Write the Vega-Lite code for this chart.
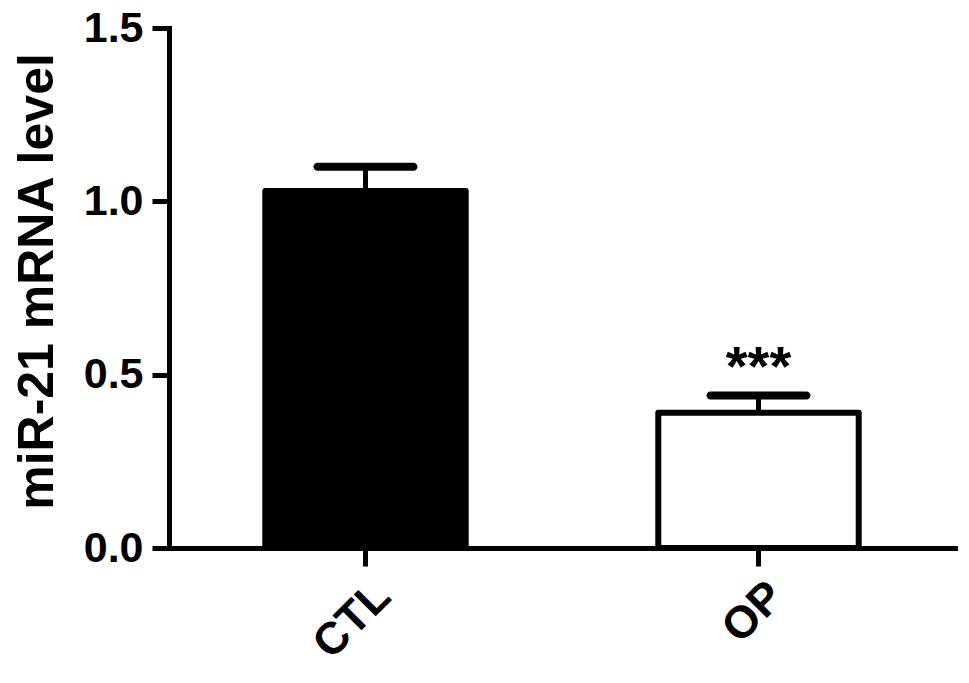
{
  "$schema": "https://vega.github.io/schema/vega-lite/v6.json",
  "autosize": "none",
  "width": 786,
  "height": 520,
  "padding": {"left": 169, "top": 28, "right": 14, "bottom": 135},
  "background": "white",
  "config": {
    "view": {"stroke": null},
    "font": "Liberation Sans"
  },
  "data": {
    "values": [
      {"group": "CTL", "mean": 1.03, "upper": 1.10, "sig": ""},
      {"group": "OP", "mean": 0.39, "upper": 0.44, "sig": "***"}
    ]
  },
  "encoding": {
    "x": {
      "field": "group",
      "type": "nominal",
      "sort": ["CTL", "OP"],
      "scale": {"paddingInner": 0.49, "paddingOuter": 0.245},
      "axis": {
        "title": null,
        "labelAngle": -45,
        "labelFont": "Liberation Sans",
        "labelFontWeight": "bold",
        "labelFontSize": 45,
        "labelColor": "black",
        "labelPadding": 7,
        "labelOffset": 2,
        "domainColor": "black",
        "domainWidth": 5,
        "tickColor": "black",
        "tickWidth": 5,
        "tickSize": 18,
        "domainCap": "square"
      }
    }
  },
  "layer": [
    {
      "mark": {"type": "bar", "stroke": "black", "strokeWidth": 6, "strokeJoin": "round"},
      "encoding": {
        "y": {
          "field": "mean",
          "type": "quantitative",
          "scale": {"domain": [0, 1.5], "nice": false},
          "axis": {
            "title": "miR-21 mRNA level",
            "titleFont": "Liberation Sans",
            "titleFontWeight": "bold",
            "titleFontSize": 50,
            "titleColor": "black",
            "titleBaseline": "alphabetic",
            "titleX": -117,
            "titleY": 253,
            "values": [0, 0.5, 1, 1.5],
            "format": ".1f",
            "grid": false,
            "labelFont": "Liberation Sans",
            "labelFontWeight": "bold",
            "labelFontSize": 43,
            "labelColor": "black",
            "labelPadding": 9,
            "domainColor": "black",
            "domainWidth": 5,
            "tickColor": "black",
            "tickWidth": 5,
            "tickSize": 17,
            "domainCap": "square"
          }
        },
        "fill": {
          "field": "group",
          "type": "nominal",
          "scale": {"domain": ["CTL", "OP"], "range": ["black", "white"]},
          "legend": null
        }
      }
    },
    {
      "mark": {"type": "rule", "stroke": "black", "strokeWidth": 5},
      "encoding": {
        "y": {"field": "mean", "type": "quantitative"},
        "y2": {"field": "upper"}
      }
    },
    {
      "mark": {"type": "tick", "color": "black", "thickness": 8, "size": 104, "cornerRadius": 4, "opacity": 1},
      "encoding": {
        "y": {"field": "upper", "type": "quantitative"}
      }
    },
    {
      "mark": {"type": "text", "font": "Liberation Sans", "fontWeight": "bold", "fontSize": 56, "color": "black", "baseline": "alphabetic", "dy": -10},
      "encoding": {
        "y": {"field": "upper", "type": "quantitative"},
        "text": {"field": "sig"}
      }
    }
  ]
}
